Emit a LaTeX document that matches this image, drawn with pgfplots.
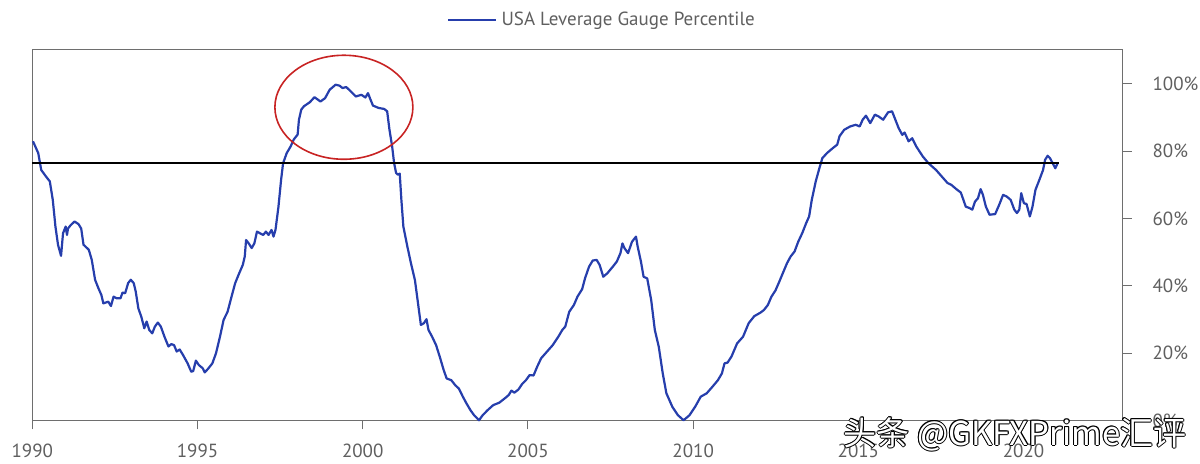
\documentclass[border=0pt]{standalone}
\usepackage{fontspec}
\setmainfont{PT Sans}
\newfontfamily\cjk{Noto Sans CJK SC}
\usepackage{pgfplots}
\pgfplotsset{compat=1.18}
\definecolor{gblue}{RGB}{38,62,172}
\definecolor{ered}{RGB}{200,35,35}
\definecolor{axgray}{RGB}{110,110,110}
\definecolor{txtgray}{RGB}{95,95,95}
\newcommand{\wm}{\cjk\fontsize{16.5}{20}\selectfont 头条 @GKFXPrime汇评}
\begin{document}
\begin{tikzpicture}
\useasboundingbox (0,0) rectangle (600pt,232pt);
\begin{axis}[
  at={(16.15pt,21.7pt)}, anchor=south west,
  scale only axis, width=545.2pt, height=185.3pt,
  xmin=1990, xmax=2023, ymin=0, ymax=110,
  clip=false,
  xtick={1990,1995,2000,2005,2010,2015,2020},
  ytick={0,20,40,60,80,100},
  axis line style={axgray, line width=0.5pt},
  tick style={axgray, line width=0.5pt},
  major tick length=4.4pt,
  tick align=outside,
  xtick pos=bottom, ytick pos=right,
  yticklabel pos=right,
  xticklabel style={font=\fontsize{9.5}{11}\selectfont, text=txtgray, yshift=-4pt},
  yticklabel style={font=\fontsize{9.5}{11}\selectfont, text=txtgray, xshift=7pt},
  /pgf/number format/1000 sep={},
  /pgf/number format/assume math mode=true,
  yticklabel={\pgfmathprintnumber{\tick}\%},
  legend style={at={(0.3803,1.081)}, anchor=west, draw=none, fill=none,
    inner xsep=0pt, inner ysep=0pt,
    font=\fontsize{9.5}{11}\selectfont, text=txtgray},
  legend image code/.code={\draw[#1] (0pt,0pt) -- (24pt,0pt);},
]
\addplot[gblue, line width=1.1pt, line join=round] coordinates {
(1990.02,82.9) (1990.18,79.4) (1990.27,74.4) (1990.41,72.5) (1990.53,71.0)
(1990.62,65.5) (1990.70,57.6) (1990.78,52.1) (1990.87,48.9) (1990.93,55.6)
(1991.01,57.6) (1991.05,55.1) (1991.08,57.0) (1991.16,58.0) (1991.28,59.1)
(1991.40,58.3) (1991.48,57.0) (1991.55,52.2) (1991.71,50.7) (1991.80,47.7)
(1991.90,41.8) (1992.00,39.3) (1992.09,37.3) (1992.15,34.8) (1992.30,35.3)
(1992.38,34.0) (1992.46,36.8) (1992.55,36.3) (1992.67,36.3) (1992.73,38.0)
(1992.81,37.8) (1992.90,40.8) (1992.98,41.8) (1993.07,40.8) (1993.13,38.3)
(1993.21,33.3) (1993.30,30.8) (1993.39,27.4) (1993.46,29.4) (1993.54,26.9)
(1993.63,25.9) (1993.71,27.9) (1993.80,29.1) (1993.89,27.9) (1994.00,24.9)
(1994.12,22.0) (1994.21,22.7) (1994.29,22.4) (1994.37,20.5) (1994.46,21.1)
(1994.56,19.5) (1994.70,17.0) (1994.81,14.5) (1994.87,14.7) (1994.95,17.8)
(1995.04,16.5) (1995.16,15.5) (1995.22,14.3) (1995.33,15.5) (1995.45,17.0)
(1995.56,20.0) (1995.68,24.9) (1995.79,29.9) (1995.91,32.3) (1996.03,36.8)
(1996.14,40.8) (1996.26,43.7) (1996.37,46.2) (1996.43,48.7) (1996.47,53.6)
(1996.55,52.6) (1996.64,51.2) (1996.72,52.6) (1996.80,56.1) (1996.89,55.6)
(1996.99,55.1) (1997.07,56.1) (1997.15,55.1) (1997.24,56.6) (1997.30,54.6)
(1997.36,56.6) (1997.45,63.5) (1997.53,71.5) (1997.59,76.4) (1997.70,79.4)
(1997.82,81.4) (1997.91,83.4) (1998.03,84.9) (1998.07,89.3) (1998.14,92.3)
(1998.22,93.3) (1998.40,94.5) (1998.54,96.0) (1998.72,94.7) (1998.86,95.7)
(1999.00,98.2) (1999.18,99.7) (1999.30,99.4) (1999.39,98.7) (1999.50,99.0)
(1999.61,98.0) (1999.79,96.2) (1999.96,96.7) (2000.08,95.9) (2000.16,97.2)
(2000.23,95.4) (2000.31,93.5) (2000.48,92.8) (2000.65,92.5) (2000.74,91.8)
(2000.81,86.3) (2000.89,81.4) (2000.95,76.4) (2001.01,73.5) (2001.06,73.0)
(2001.12,73.3) (2001.17,65.5) (2001.23,57.6) (2001.35,51.7) (2001.46,46.7)
(2001.58,41.7) (2001.66,35.8) (2001.76,28.4) (2001.85,28.9) (2001.93,30.1)
(2001.99,26.9) (2002.10,24.9) (2002.22,22.4) (2002.33,19.0) (2002.45,15.0)
(2002.54,12.5) (2002.68,12.0) (2002.80,10.5) (2002.91,9.5) (2003.03,7.1)
(2003.14,5.1) (2003.26,3.1) (2003.37,1.6) (2003.52,0.1) (2003.63,1.6)
(2003.78,3.1) (2003.95,4.6) (2004.13,5.3) (2004.30,6.6) (2004.42,7.6)
(2004.50,8.9) (2004.59,8.3) (2004.71,9.2) (2004.82,10.8) (2004.94,12.0)
(2005.05,13.5) (2005.17,13.4) (2005.28,16.0) (2005.40,18.5) (2005.57,20.4)
(2005.75,22.4) (2005.92,24.9) (2006.04,26.9) (2006.13,27.9) (2006.25,32.3)
(2006.39,34.3) (2006.50,36.8) (2006.64,39.0) (2006.73,42.3) (2006.85,45.7)
(2006.96,47.5) (2007.08,47.7) (2007.17,46.2) (2007.28,42.7) (2007.40,43.7)
(2007.57,45.7) (2007.69,47.2) (2007.80,49.7) (2007.86,52.6) (2007.92,51.2)
(2008.03,49.7) (2008.15,53.1) (2008.27,54.6) (2008.32,51.7) (2008.42,47.2)
(2008.50,42.7) (2008.61,42.2) (2008.73,35.8) (2008.84,26.9) (2008.96,21.9)
(2009.08,14.0) (2009.19,8.1) (2009.37,4.1) (2009.54,1.6) (2009.71,0.1)
(2009.89,1.6) (2010.06,4.1) (2010.23,7.1) (2010.41,8.1) (2010.58,10.0)
(2010.75,12.0) (2010.87,14.0) (2010.95,17.0) (2011.04,17.2) (2011.16,19.0)
(2011.33,22.9) (2011.51,24.9) (2011.68,28.9) (2011.85,31.0) (2012.03,32.0)
(2012.14,32.8) (2012.26,34.3) (2012.37,36.8) (2012.49,38.6) (2012.61,41.3)
(2012.72,43.9) (2012.84,46.7) (2012.95,48.7) (2013.07,50.2) (2013.18,53.1)
(2013.30,55.6) (2013.42,58.6) (2013.51,60.6) (2013.59,65.5) (2013.71,71.0)
(2013.82,74.9) (2013.91,77.9) (2014.05,79.4) (2014.23,80.9) (2014.36,81.9)
(2014.43,84.4) (2014.57,86.3) (2014.75,87.3) (2014.92,87.8) (2015.04,87.3)
(2015.13,89.3) (2015.23,90.5) (2015.36,88.3) (2015.50,90.8) (2015.61,90.3)
(2015.75,89.3) (2015.90,91.5) (2016.02,91.8) (2016.10,89.8) (2016.22,86.8)
(2016.33,84.8) (2016.40,85.5) (2016.52,82.9) (2016.63,83.8) (2016.75,81.4)
(2016.95,78.4) (2017.12,76.4) (2017.35,74.4) (2017.52,72.5) (2017.70,70.5)
(2017.81,70.0) (2017.99,68.5) (2018.10,67.7) (2018.18,65.5) (2018.25,63.5)
(2018.36,63.1) (2018.45,62.6) (2018.53,65.0) (2018.62,66.0) (2018.70,68.7)
(2018.77,67.0) (2018.86,63.5) (2018.97,61.1) (2019.14,61.3) (2019.26,64.0)
(2019.38,67.0) (2019.49,66.5) (2019.61,65.5) (2019.72,62.6) (2019.80,61.6)
(2019.87,62.6) (2019.93,67.5) (2020.01,64.5) (2020.09,64.3) (2020.19,60.6)
(2020.27,63.5) (2020.36,68.5) (2020.48,71.5) (2020.59,74.4) (2020.65,77.4)
(2020.73,78.6) (2020.80,77.9) (2020.88,76.4) (2020.96,74.9) (2021.03,76.4)
};
\addlegendentry{USA Leverage Gauge Percentile}
\addplot[black, line width=1.1pt, forget plot] coordinates {(1990,76.4) (2021.08,76.4)};
\draw[ered, line width=0.8pt] (axis cs:1999.43,93.0) ellipse [x radius=34.5pt, y radius=26pt];
\end{axis}
\foreach \dx/\dy in {0.5/0,-0.5/0,0/0.5,0/-0.5,0.35/0.35,0.35/-0.35,-0.35/0.35,-0.35/-0.35}
  \node[text=black, inner sep=0pt] at (507.5pt+\dx pt,15pt+\dy pt) {\wm};
\node[text=white, inner sep=0pt] at (507.5pt,15pt) {\wm};
\end{tikzpicture}
\end{document}
